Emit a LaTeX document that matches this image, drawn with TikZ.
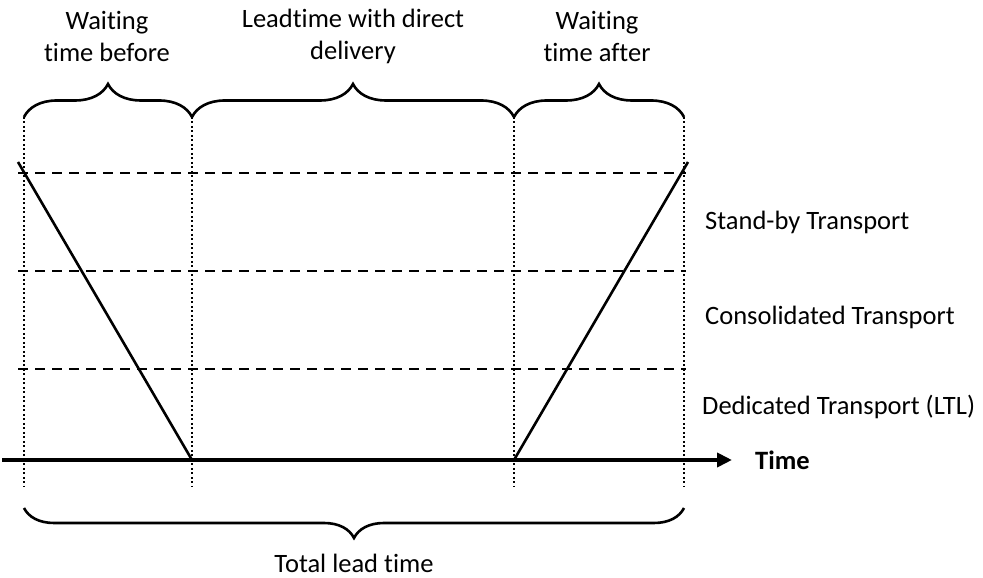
\documentclass[tikz,border=0pt]{standalone}
\usepackage{fontspec}
\setmainfont{Carlito}[Ligatures=CommonOff]
\usetikzlibrary{arrows.meta,decorations.pathreplacing,positioning,calc}
\tikzset{
    % Base style for all texts
    label text/.style={
        font=\fontsize{26.5}{32}\selectfont,
        align=center,
        inner sep=0pt,
    },
    % Texts naming the transport levels
    level text/.style={
        label text,
        anchor=west,
    },
    % Dotted guides at the time marks
    time mark/.style={
        line width=2pt,
        dash pattern=on 2pt off 2.5pt,
    },
    % Dashed lines of the transport levels
    level line/.style={
        line width=2.8pt,
        dash pattern=on 10pt off 7pt,
    },
    % Slanted lead time lines
    lead line/.style={
        line width=2.6pt,
    },
    % Time axis with filled tip
    time axis/.style={
        line width=4pt,
        -{Triangle[length=15pt, width=14pt]},
    },
    % Curly braces over the spans
    span brace/.style={
        decorate,
        decoration={brace, amplitude=#1},
        line width=2.6pt,
    },
    span brace/.default=33pt,
}

\begin{document}
\begin{tikzpicture}[x=1pt, y=1pt]
    \useasboundingbox (0,0) rectangle (983,578);

    % time marks
    \foreach \n/\x in {t0/24, t1/192, t2/514, t3/684} {
        \coordinate (\n) at (\x,118);
        \coordinate (\n-top) at (\x,461);
        \coordinate (\n-bot) at (\x,91);
        \coordinate (\n-low) at (\x,70);
        \draw [time mark] (\n-top) -- (\n-bot);
    }

    % transport levels
    \foreach \y in {405, 307, 209}
        \draw [level line] (18,\y) -- (686,\y);
    \node (standby) [level text] at (705,356) {Stand-by Transport};
    \node (consolidated) [level text] at (705,261) {Consolidated Transport};
    \node (dedicated) [level text] at (702,171) {Dedicated Transport (LTL)};

    % lead time lines
    \coordinate (early) at (18,416);
    \coordinate (late) at (688,416);
    \draw [lead line] (early) -- (t1);
    \draw [lead line] (t2) -- (late);

    % time axis
    \coordinate (origin) at (2,118);
    \coordinate (axis end) at (732,118);
    \draw [time axis] (origin) -- (axis end);
    \node (time) [label text, font=\fontsize{26.5}{32}\selectfont\bfseries,
        right=23pt of axis end] {Time};

    % spans
    \draw [span brace] (t0-top) -- (t1-top);
    \draw [span brace] (t1-top) -- (t2-top);
    \draw [span brace] (t2-top) -- (t3-top);
    \draw [span brace=30pt] (t3-low) -- (t0-low);

    \node (before) [label text] at (107,542) {Waiting\\time before};
    \node (direct) [label text] at (353,542) {Leadtime with direct\\delivery};
    \node (after) [label text] at (597,542) {Waiting\\time after};
    \node (total) [label text] at (354,15) {Total lead time};
\end{tikzpicture}
\end{document}
